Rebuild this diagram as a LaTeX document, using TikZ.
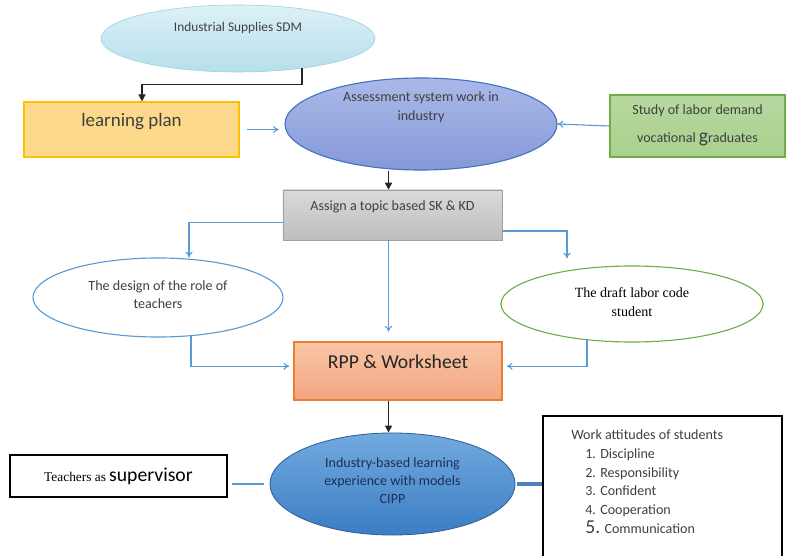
\documentclass[tikz,border=0pt]{standalone}
\usepackage{fontspec}
\setmainfont{Carlito}
\newfontfamily\timesfont{Liberation Serif}
\usetikzlibrary{shapes.geometric, arrows.meta, positioning, calc}
\definecolor{sdmfill}{HTML}{DCF1F7}
\definecolor{sdmfilldark}{HTML}{B5DFEC}
\definecolor{sdmline}{HTML}{9ACFE0}
\definecolor{planfill}{HTML}{FDD98B}
\definecolor{planline}{HTML}{FFC000}
\definecolor{assesstop}{HTML}{AAB9E8}
\definecolor{assessbot}{HTML}{8599D8}
\definecolor{assessline}{HTML}{4472C4}
\definecolor{studyfill}{HTML}{A9D18E}
\definecolor{studyline}{HTML}{70AD47}
\definecolor{graytop}{HTML}{DADADA}
\definecolor{graybot}{HTML}{BDBDBD}
\definecolor{grayline}{HTML}{A0A0A0}
\definecolor{rpptop}{HTML}{F8C6A6}
\definecolor{rppbot}{HTML}{F4A582}
\definecolor{rppline}{HTML}{ED7D31}
\definecolor{cipptop}{HTML}{72AADF}
\definecolor{cippbot}{HTML}{3B7DC4}
\definecolor{cippline}{HTML}{2F6096}
\definecolor{arrblue}{HTML}{5B9BD5}
\definecolor{linkblue}{HTML}{4F81BD}
\definecolor{txtgray}{HTML}{404040}
\definecolor{txtnavy}{HTML}{1F2F55}

\begin{document}
\begin{tikzpicture}[x=0.025cm, y=-0.025cm,
  oval/.style={ellipse, inner sep=0pt},
  box/.style={rectangle, inner sep=0pt},
  txt/.style={align=center, text=txtgray, font=\fontsize{10}{13.5}\selectfont},
  blkarr/.style={-{Triangle[length=5pt, width=5pt]}, line width=1pt, black!85},
  bluearr/.style={-{To[length=4pt, width=5pt]}, line width=0.8pt, arrblue}
]
\useasboundingbox (0,0) rectangle (789,556);
% top row
\node[oval, draw=sdmline, top color=sdmfill, bottom color=sdmfilldark, minimum width=6.85cm, minimum height=1.675cm] (sdm) at (238,38.5) {};
\node[txt, font=\fontsize{9.5}{12}\selectfont] (sdmtxt) at (238,28) {Industrial Supplies SDM};
\node[box, draw=planline, line width=0.8pt, fill=planfill, minimum width=5.375cm, minimum height=1.375cm] (plan) at (131.5,129.5) {};
\node[txt, font=\fontsize{13.5}{16}\selectfont] (plantxt) at (131.5,122) {learning plan};
\node[oval, draw=assessline, line width=0.8pt, top color=assesstop, bottom color=assessbot, minimum width=6.8cm, minimum height=2.3cm] (assess) at (421,124) {};
\node[txt] (assesstxt) at (421,107) {Assessment system work in\\industry};
\node[box, draw=studyline, line width=0.8pt, top color=studyfill!85, bottom color=studyfill, minimum width=4.375cm, minimum height=1.55cm] (study) at (697.5,126) {};
\node[txt, font=\fontsize{10}{20}\selectfont] (studytxt) at (697.5,125) {Study of labor demand\\vocational {\fontsize{14}{14}\selectfont g}raduates};
% middle
\node[box, draw=grayline, top color=graytop, bottom color=graybot, minimum width=5.475cm, minimum height=1.25cm] (topic) at (392.5,215) {};
\node[txt] (topictxt) at (392.5,207) {Assign a topic based SK \& KD};
\node[oval, draw=arrblue, line width=0.8pt, fill=white, minimum width=6.25cm, minimum height=1.975cm] (design) at (158,297.5) {};
\node[txt, font=\fontsize{10}{12.8}\selectfont] (designtxt) at (158,295) {The design of the role of\\teachers};
\node[oval, draw=studyline, line width=0.8pt, fill=white, minimum width=6.55cm, minimum height=1.9cm] (draft) at (632,304) {};
\node[txt, text=black, font=\timesfont\fontsize{10}{13.5}\selectfont] (drafttxt) at (632,302.5) {The draft labor code\\student};
\node[box, draw=rppline, line width=0.8pt, top color=rpptop, bottom color=rppbot, minimum width=5.2cm, minimum height=1.45cm] (rpp) at (398,371) {};
\node[txt, text=black!85, font=\fontsize{14}{16}\selectfont] (rpptxt) at (398,362) {RPP \& Worksheet};
% bottom row
\node[oval, draw=cippline, line width=0.6pt, top color=cipptop, bottom color=cippbot, minimum width=6.125cm, minimum height=2.55cm] (cipp) at (392.5,484) {};
\node[txt, text=txtnavy, font=\fontsize{10}{13}\selectfont] (cipptxt) at (392.5,480.5) {Industry-based learning\\experience with models\\CIPP};
\node[box, draw=black, line width=0.8pt, fill=white, minimum width=5.425cm, minimum height=1.05cm] (teach) at (118.5,476) {};
\node[txt, text=black] (teachtxt) at (118.5,476) {{\timesfont\fontsize{9.5}{12}\selectfont Teachers as} {\fontsize{14}{16}\selectfont supervisor}};
\node[box, draw=black, line width=0.8pt, fill=white, minimum width=5.975cm, minimum height=3.975cm] (work) at (662.5,495.5) {};
\node[txt, align=left, anchor=north west, inner sep=0pt] (worktxt) at (571,429) {Work attitudes of students\\
  \hspace*{1.0em}1. Discipline\\
  \hspace*{1.0em}2. Responsibility\\
  \hspace*{1.0em}3. Confident\\
  \hspace*{1.0em}4. Cooperation\\
  \hspace*{1.0em}{\fontsize{14}{14}\selectfont 5.} Communication};
% connectors
\draw[blkarr] (sdm.-25) -- ++(0,16) -| ($(plan.north)+(10.5,0)$);
\draw[bluearr, shorten <=5pt, shorten >=4pt] (plan.east) -- (plan.east -| assess.west);
\draw[bluearr] (study.west) -- (assess.east);
\draw[blkarr] ($(topic.north |- assess.south)+(-4,0)$) -- ($(topic.north)+(-4,0)$);
\draw[bluearr] ([yshift=-0.18cm]topic.west) -| ($(design.north)+(31,0)$);
\draw[bluearr, shorten >=7pt] ($(topic.south)+(-4,0)$) -- ($(topic.south |- rpp.north)+(-4,0)$);
\draw[bluearr, shorten >=5pt] ([yshift=-0.4cm]topic.east) -| ($(draft.north)+(-65,0)$);
\draw[bluearr, shorten >=3pt] ($(design.south)+(33,-2)$) |- ([yshift=0.12cm]rpp.west);
\draw[bluearr, shorten >=3pt] ($(draft.south)+(-45,-4)$) |- ([yshift=0.12cm]rpp.east);
\draw[blkarr] ($(cipp.north |- rpp.south)+(-4,0)$) -- ($(cipp.north)+(-4,0)$);
\draw[line width=1.2pt, arrblue, shorten <=3pt, shorten >=4pt] (teach.east |- cipp.west) -- (cipp.west);
\draw[line width=2.2pt, linkblue, shorten <=1pt] (cipp.east) -- (cipp.east -| work.west);
\end{tikzpicture}
\end{document}
